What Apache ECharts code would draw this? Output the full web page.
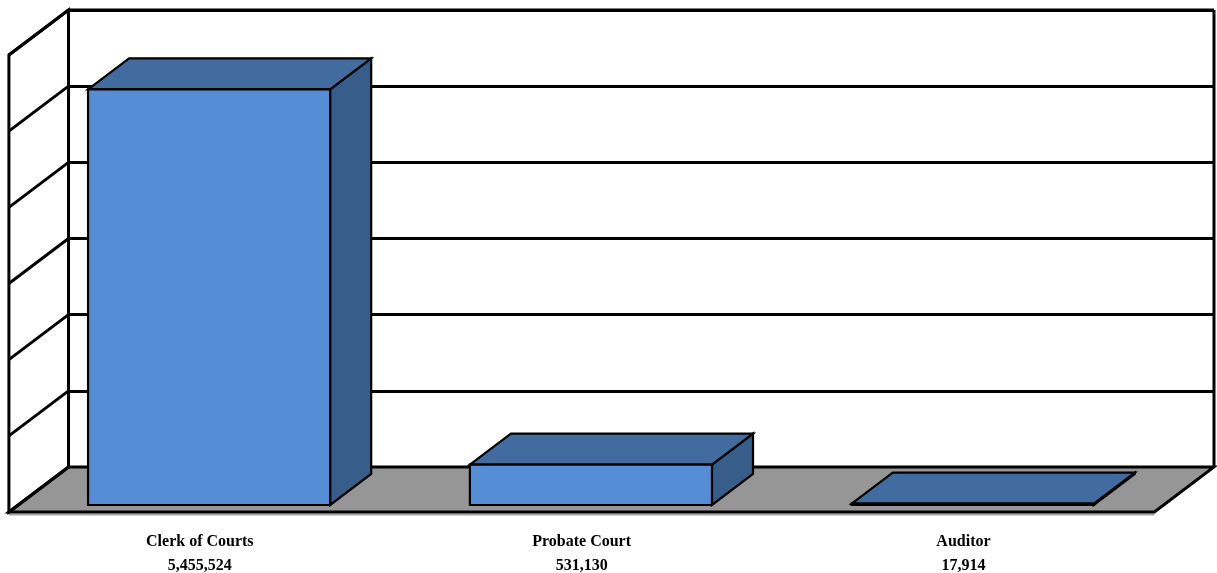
<!DOCTYPE html>
<html>
<head>
<meta charset="utf-8">
<script src="https://cdn.jsdelivr.net/npm/echarts@6/dist/echarts.min.js"></script>
<style>
  html, body { margin: 0; padding: 0; background: #fff; }
  #chart { width: 1217px; height: 573px; }
</style>
</head>
<body>
<div id="chart"></div>
<script>
// Collections by office
const categories = ['Clerk of Courts', 'Probate Court', 'Auditor'];
const amounts = [5455524, 531130, 17914];
// Value-axis gridline ticks drawn on the back and side walls
const yTicks = [0, 1000000, 2000000, 3000000, 4000000, 5000000, 6000000];

// Oblique depth of the 3D box (pixels from back wall to front of floor)
const DX = 59.6, DY = 45;
const BAR_FRONT = 38 / 45;   // fraction of depth where bar front face sits
const BAR_BACK = 7 / 45;     // fraction of depth where bar back face sits
const BAR_RATIO = 0.634;

const chart = echarts.init(document.getElementById('chart'), null, { renderer: 'canvas' });

function frameItem(params, api) {
  const cs = params.coordSys;
  const L = cs.x, R = cs.x + cs.width, T = cs.y, B = cs.y + cs.height;
  const line = { stroke: '#000', lineWidth: 3 };
  const children = [];
  // floor
  children.push({
    type: 'line',
    shape: { x1: L - DX, y1: B + DY + 2.5, x2: R - DX, y2: B + DY + 2.5 },
    style: { stroke: '#a6a6a6', lineWidth: 2 }
  });
  children.push({
    type: 'polygon',
    shape: { points: [[L, B], [R, B], [R - DX, B + DY], [L - DX, B + DY]] },
    style: { fill: '#969696', stroke: '#000', lineWidth: 3, lineJoin: 'miter' }
  });
  // side wall
  children.push({
    type: 'polygon',
    shape: { points: [[L, T], [L, B], [L - DX, B + DY], [L - DX, T + DY]] },
    style: { fill: '#fff', stroke: '#000', lineWidth: 3 }
  });
  yTicks.forEach(function (v) {
    const y = api.coord([0, v])[1];
    children.push({
      type: 'line',
      shape: { x1: L, y1: y, x2: L - DX, y2: y + DY },
      style: line
    });
  });
  // back wall outline
  children.push({ type: 'line', shape: { x1: L, y1: T, x2: R, y2: T }, style: line });
  children.push({ type: 'line', shape: { x1: R, y1: T, x2: R, y2: B }, style: line });
  children.push({ type: 'line', shape: { x1: L, y1: T, x2: L, y2: B }, style: line });
  return { type: 'group', children: children };
}

function barItem(params, api) {
  const idx = api.value(0);
  const val = api.value(1);
  const top = api.coord([idx, val]);
  const base = api.coord([idx, 0]);
  const w = api.size([1, 0])[0] * BAR_RATIO;
  const fx = -DX * BAR_FRONT, fy = DY * BAR_FRONT;
  const bx = -DX * BAR_BACK, by = DY * BAR_BACK;
  const x0 = top[0] - w / 2 + fx, x1 = x0 + w;
  const yT = top[1] + fy, yB = base[1] + fy;
  const x0b = top[0] - w / 2 + bx, x1b = x0b + w;
  const yTb = top[1] + by, yBb = base[1] + by;
  const edge = { stroke: '#000', lineWidth: 2.2, lineJoin: 'miter' };
  const labelX = top[0] - DX;
  const labelY = base[1] + DY + 30;
  const font = 'bold 16px "Liberation Serif", "Times New Roman", serif';
  return {
    type: 'group',
    children: [
      {
        type: 'polygon',
        shape: { points: [[x1, yT], [x1, yB], [x1b, yBb], [x1b, yTb]] },
        style: Object.assign({ fill: '#375d8a' }, edge)
      },
      {
        type: 'polygon',
        shape: { points: [[x0, yT], [x1, yT], [x1b, yTb], [x0b, yTb]] },
        style: Object.assign({ fill: '#426ca0' }, edge)
      },
      {
        type: 'rect',
        shape: { x: x0, y: yT, width: w, height: yB - yT },
        style: Object.assign({ fill: '#558ed5' }, edge)
      },
      {
        type: 'text',
        x: labelX, y: labelY,
        style: { text: categories[idx], font: font, fill: '#000', align: 'center', verticalAlign: 'middle' }
      },
      {
        type: 'text',
        x: labelX, y: labelY + 24,
        style: { text: val.toLocaleString('en-US'), font: font, fill: '#000', align: 'center', verticalAlign: 'middle' }
      }
    ]
  };
}

chart.setOption({
  animation: false,
  backgroundColor: '#fff',
  grid: { left: 68.5, right: 3, top: 10, bottom: 106 },
  xAxis: {
    type: 'category',
    data: categories,
    axisLine: { show: false },
    axisTick: { show: false },
    axisLabel: { show: false },
    splitLine: { show: false }
  },
  yAxis: {
    type: 'value',
    min: 0,
    max: 6000000,
    interval: 1000000,
    axisLine: { show: false },
    axisTick: { show: false },
    axisLabel: { show: false },
    splitLine: { show: true, lineStyle: { color: '#000', width: 3 } }
  },
  series: [
    {
      type: 'custom',
      name: 'frame',
      clip: false,
      silent: true,
      z: 1,
      data: [[0, 0]],
      renderItem: frameItem
    },
    {
      type: 'custom',
      name: 'Collections',
      clip: false,
      z: 3,
      encode: { x: 0, y: 1 },
      data: categories.map(function (c, i) { return [i, amounts[i]]; }),
      renderItem: barItem
    }
  ]
});
</script>
</body>
</html>
